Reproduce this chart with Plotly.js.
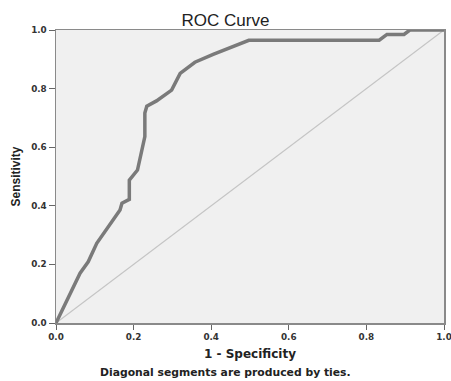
<!DOCTYPE html>
<html><head><meta charset="utf-8">
<script src="https://cdn.plot.ly/plotly-3.0.1.min.js"></script>
<style>html,body{margin:0;padding:0;background:#fff}#chart{width:451px;height:381px}</style>
</head><body><div id="chart"></div>
<script>
var fpr = [0, 0.062, 0.083, 0.105, 0.165, 0.170, 0.189, 0.189, 0.21, 0.229, 0.229, 0.234, 0.259, 0.298, 0.32, 0.358, 0.405, 0.456, 0.497, 0.833, 0.853, 0.897, 0.912, 1.0];
var tpr = [0, 0.17, 0.209, 0.272, 0.386, 0.409, 0.422, 0.488, 0.522, 0.636, 0.717, 0.74, 0.758, 0.795, 0.852, 0.890, 0.917, 0.943, 0.965, 0.965, 0.985, 0.985, 1.0, 1.0];
var refX = [0, 1];
var refY = [0, 1];
var tickVals = [0, 0.2, 0.4, 0.6, 0.8, 1.0];
var tickText = ['0.0', '0.2', '0.4', '0.6', '0.8', '1.0'];

var tickFont = {family: 'DejaVu Sans', size: 8.8, color: '#333', weight: 'bold'};
var data = [
  {x: refX, y: refY, mode: 'lines', line: {color: '#c4c4c4', width: 1.2}, hoverinfo: 'skip', showlegend: false},
  {x: fpr, y: tpr, mode: 'lines', line: {color: '#7a7a7a', width: 3.5}, showlegend: false}
];
var layout = {
  width: 451, height: 381,
  margin: {l: 56, r: 7, t: 30, b: 58},
  paper_bgcolor: '#ffffff',
  plot_bgcolor: '#f0f0f0',
  title: {text: 'ROC Curve', font: {family: 'Liberation Sans', size: 17, color: '#222'}, x: 0.5, xref: 'container', y: 1 - 20/381, yref: 'container', yanchor: 'middle'},
  xaxis: {range: [0, 1], tickvals: tickVals, ticktext: tickText, ticks: 'outside', ticklen: 5, tickcolor: '#666', tickwidth: 1,
    ticklabeloverflow: 'allow',
    showgrid: false, zeroline: false, showline: true, mirror: true, linecolor: '#8a8a8a', linewidth: 1.5,
    tickfont: tickFont, title: {text: '1 - Specificity', font: {family: 'DejaVu Sans', size: 12, color: '#222', weight: 'bold'}, standoff: 8}},
  yaxis: {range: [0, 1], tickvals: tickVals, ticktext: tickText, ticks: 'outside', ticklen: 6, tickcolor: '#666', tickwidth: 1,
    ticklabeloverflow: 'allow',
    showgrid: false, zeroline: false, showline: true, mirror: true, linecolor: '#8a8a8a', linewidth: 1.5,
    tickfont: tickFont, title: {text: 'Sensitivity', font: {family: 'Liberation Sans', size: 12, color: '#222', weight: 'bold'}, standoff: 8}},
  annotations: [{text: 'Diagonal segments are produced by ties.', xref: 'paper', yref: 'paper', x: (225 - 56) / 388, y: (323 - 372) / 293, yanchor: 'middle', showarrow: false,
    font: {family: 'DejaVu Sans', size: 10.8, color: '#222', weight: 'bold'}}]
};
Plotly.newPlot('chart', data, layout, {displayModeBar: false, staticPlot: true});
</script></body></html>
